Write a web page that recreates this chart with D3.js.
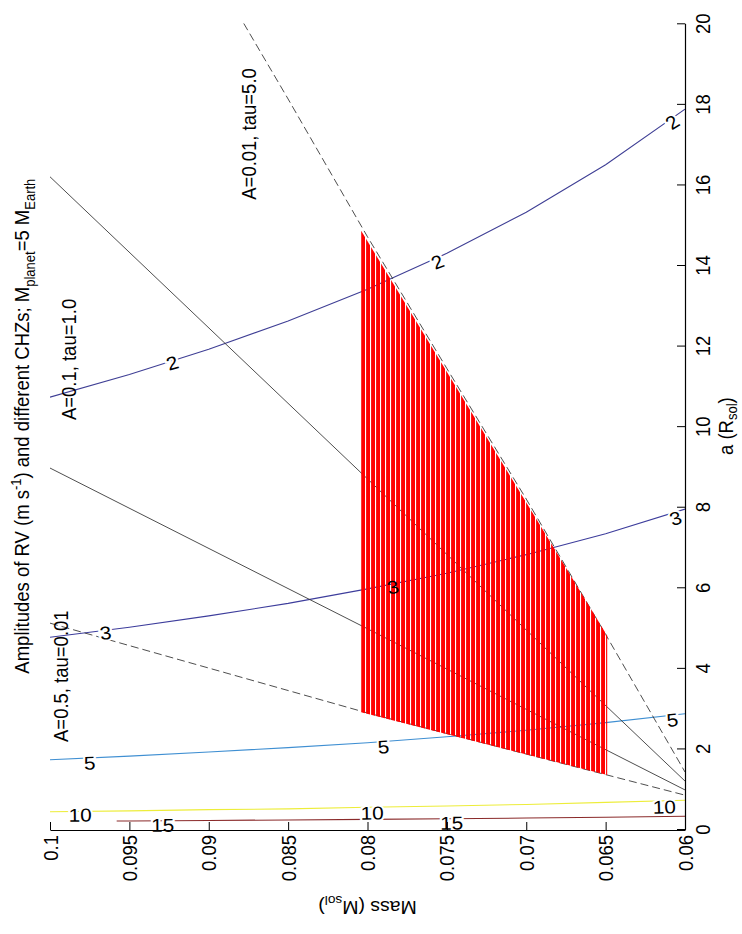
<!DOCTYPE html>
<html><head><meta charset="utf-8">
<script src="https://cdn.jsdelivr.net/npm/d3@7"></script>
<style>
body{margin:0;background:#fff}
svg{display:block}
text{font-family:"Liberation Sans",Arial,Helvetica,sans-serif;fill:#000}
</style></head>
<body><svg id="c" width="742" height="934"></svg>
<script>
// ---------- data ----------
const massTicks = [0.06, 0.065, 0.07, 0.075, 0.08, 0.085, 0.09, 0.095, 0.1];
const massTickLabels = ["0.06", "0.065", "0.07", "0.075", "0.08", "0.085", "0.09", "0.095", "0.1"];
const aTicks = [0, 2, 4, 6, 8, 10, 12, 14, 16, 18, 20];

// RV amplitude contours: semi-major axis a (R_sol) vs stellar mass
const contourMass = [0.1, 0.095, 0.09, 0.085, 0.08, 0.075, 0.07, 0.065, 0.06];
const rv2  = [10.72, 11.28, 11.91, 12.61, 13.40, 14.29, 15.31, 16.49, 17.87];
const rv3  = [4.76, 5.01, 5.29, 5.60, 5.96, 6.35, 6.81, 7.33, 7.94];
const rv5  = [1.72, 1.81, 1.91, 2.02, 2.14, 2.29, 2.45, 2.64, 2.86];
const rv10 = [0.43, 0.45, 0.48, 0.50, 0.54, 0.57, 0.61, 0.66, 0.715];
const rv15Mass = [0.0958, 0.095, 0.09, 0.085, 0.08, 0.075, 0.07, 0.065, 0.06];
const rv15 = [0.20, 0.20, 0.212, 0.224, 0.238, 0.254, 0.272, 0.293, 0.318];

// CHZ boundaries
const chzOuterMass = [0.0878, 0.085, 0.08, 0.075, 0.07, 0.065, 0.06];   // dashed, A=0.01 tau=5.0
const chzOuterA    = [20.0, 18.12, 14.70, 11.43, 8.19, 4.83, 1.415];
const chzMidMass   = [0.1, 0.08, 0.06];                                  // solid
const chzMidA      = [16.19, 8.69, 1.19];
const chzInnerMass = [0.1, 0.08, 0.06];                                  // solid
const chzInnerA    = [8.96, 4.97, 0.97];
const chzLowMass   = [0.1, 0.08, 0.065, 0.06];                           // dashed, A=0.5 tau=0.01
const chzLowA      = [5.11, 2.88, 1.35, 0.84];

// hatched zone
const zoneMass = [0.0804, 0.0649, 0.0649, 0.0804];
const zoneA    = [14.85, 4.80, 1.34, 2.90];

// contour labels (level, mass, a)
const labelLevel = ["2", "2", "2", "3", "3", "3", "5", "5", "5", "10", "10", "10", "15", "15"];
const labelMass  = [0.0923, 0.0756, 0.0608, 0.0965, 0.0784, 0.0606, 0.0975, 0.0790, 0.0608, 0.0981, 0.0797, 0.0613, 0.0929, 0.0747];
const labelA     = [11.57, 14.08, 17.55, 4.87, 6.01, 7.72, 1.64, 2.04, 2.71, 0.35, 0.40, 0.55, 0.10, 0.15];

// CHZ text labels
const chzText = ["A=0.01, tau=5.0", "A=0.1, tau=1.0", "A=0.5, tau=0.01"];
const chzTextMass = [0.08702, 0.09836, 0.09887];
const chzTextA = [15.62, 10.15, 2.16];

// ---------- drawing ----------
const svg = d3.select("#c");
const x = d3.scaleLinear().domain([0.06, 0.1]).range([685, 50]);
const y = d3.scaleLinear().domain([0, 20]).range([829, 23.3]);
const FS = 18.5;
const SX = 1.12;   // horizontal stretch of the reference's glyphs

svg.append("rect").attr("width", 742).attr("height", 934).attr("fill", "#fff");

const defs = svg.append("defs");
defs.append("clipPath").attr("id", "clip").append("rect")
  .attr("x", x(0.1)).attr("y", y(20)).attr("width", x(0.06) - x(0.1)).attr("height", y(0) - y(20));
const pat = defs.append("pattern").attr("id", "hatch").attr("patternUnits", "userSpaceOnUse")
  .attr("width", 5).attr("height", 10);
pat.append("rect").attr("x", 1.1).attr("width", 3.9).attr("height", 10).attr("fill", "#ff0000");

const plot = svg.append("g").attr("clip-path", "url(#clip)");
const line = d3.line().x(d => x(d[0])).y(d => y(d[1]));
const zip = (ms, as) => ms.map((m, i) => [m, as[i]]);

const contours = [
  {lev: "2", pts: zip(contourMass, rv2), color: "#3f3f95"},
  {lev: "3", pts: zip(contourMass, rv3), color: "#3d3d9c"},
  {lev: "5", pts: zip(contourMass, rv5), color: "#3f8fd2"},
  {lev: "10", pts: zip(contourMass, rv10), color: "#eded3a"},
  {lev: "15", pts: zip(rv15Mass, rv15), color: "#8a2a2a"}
];
contours.forEach(c => {
  plot.append("path").attr("d", line(c.pts)).attr("fill", "none")
    .attr("stroke", c.color).attr("stroke-width", 1.1);
});

const chz = [
  {pts: zip(chzOuterMass, chzOuterA), dash: "8,4"},
  {pts: zip(chzMidMass, chzMidA), dash: null},
  {pts: zip(chzInnerMass, chzInnerA), dash: null},
  {pts: zip(chzLowMass, chzLowA), dash: "8,4"}
];
chz.forEach(c => {
  plot.append("path").attr("d", line(c.pts)).attr("fill", "none")
    .attr("stroke", "#3a3a3a").attr("stroke-width", 0.9)
    .attr("stroke-dasharray", c.dash);
});

const zonePts = zip(zoneMass, zoneA);
plot.append("path").attr("d", line(zonePts) + "Z").attr("fill", "url(#hatch)");

// contour labels
const zoneScreen = zonePts.map(p => [x(p[0]), y(p[1])]);
labelLevel.forEach((lev, i) => {
  const c = contours.find(k => k.lev === lev);
  const m = labelMass[i];
  let j = 0;
  while (j < c.pts.length - 2 && !(c.pts[j][0] >= m && c.pts[j + 1][0] <= m)) j++;
  const p0 = c.pts[j], p1 = c.pts[j + 1];
  const ang = Math.atan2(y(p1[1]) - y(p0[1]), x(p1[0]) - x(p0[0])) * 180 / Math.PI;
  const px = x(m), py = y(labelA[i]);
  const inZone = d3.polygonContains(zoneScreen, [px, py]);
  const t = svg.append("text")
    .attr("transform", `translate(${px},${py}) scale(${SX},1) rotate(${ang})`)
    .attr("text-anchor", "middle").attr("dy", "0.36em")
    .style("font-size", FS + "px").text(lev);
  if (!inZone) t.attr("stroke", "#fff").attr("stroke-width", 4).attr("paint-order", "stroke");
});

// CHZ labels
chzText.forEach((s, i) => {
  svg.append("text")
    .attr("transform", `translate(${x(chzTextMass[i])},${y(chzTextA[i])}) rotate(-90) scale(1,${SX})`)
    .style("font-size", FS + "px").text(s);
});

// axes
const aAxis = d3.axisRight(y).tickValues(aTicks).tickSize(-8).tickSizeOuter(0).tickFormat(d3.format("d"));
const gA = svg.append("g").attr("transform", `translate(${x(0.06)},0)`).call(aAxis);
gA.selectAll("text").attr("x", null).attr("dy", null)
  .attr("transform", `translate(25,0) rotate(-90) scale(1,${SX})`)
  .attr("text-anchor", "middle").style("font-size", FS + "px").style("font-family", null);

const mAxis = d3.axisBottom(x).tickValues(massTicks).tickSize(-8).tickSizeOuter(0)
  .tickFormat((d, i) => massTickLabels[i]);
const gM = svg.append("g").attr("transform", `translate(0,${y(0) + 1})`).call(mAxis);
gM.selectAll("text").attr("y", null).attr("dy", null)
  .attr("transform", `translate(7,5) rotate(-90) scale(1,${SX})`)
  .attr("text-anchor", "end").style("font-size", FS + "px").style("font-family", null);
[gA, gM].forEach(g => {
  g.select(".domain").attr("stroke", "#000").attr("stroke-width", 1.2);
  g.selectAll(".tick line").attr("stroke", "#000");
  g.attr("font-family", null).attr("font-size", null);
});

// axis titles
const xl = svg.append("text").attr("transform", `translate(733,${(y(0) + y(20)) / 2}) rotate(-90) scale(1,${SX})`)
  .attr("text-anchor", "middle").style("font-size", FS + "px");
xl.append("tspan").text("a (R");
xl.append("tspan").attr("dy", 4).style("font-size", "13px").text("sol");
xl.append("tspan").attr("dy", -4).text(")");

const ml = svg.append("text").attr("transform", `translate(${(x(0.06) + x(0.1)) / 2},901) rotate(180) scale(1.05,1)`)
  .attr("text-anchor", "middle").style("font-size", FS + "px");
ml.append("tspan").text("Mass (M");
ml.append("tspan").attr("dy", 5).style("font-size", "13px").text("sol");
ml.append("tspan").attr("dy", -5).text(")");

const tt = svg.append("text").attr("transform", `translate(29,${(y(0) + y(20)) / 2}) rotate(-90) scale(1,${SX})`)
  .attr("text-anchor", "middle").style("font-size", FS + "px");
tt.append("tspan").text("Amplitudes of RV (m s");
tt.append("tspan").attr("dy", -7).style("font-size", "13px").text("-1");
tt.append("tspan").attr("dy", 7).text(") and different CHZs; M");
tt.append("tspan").attr("dy", 5).style("font-size", "13px").text("planet");
tt.append("tspan").attr("dy", -5).text("=5 M");
tt.append("tspan").attr("dy", 5).style("font-size", "13px").text("Earth");
</script></body></html>
